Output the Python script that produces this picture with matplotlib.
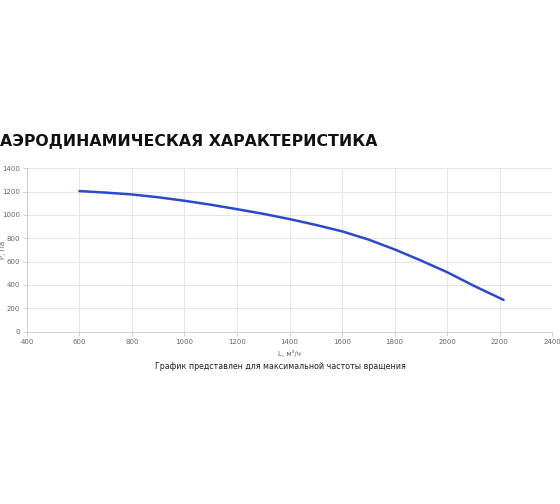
import numpy as np
from matplotlib import pyplot as plt

# расход L, м3/ч и давление P, Па
flow = [600, 700, 800, 900, 1000, 1100, 1200, 1300, 1400, 1500, 1600,
        1700, 1800, 1900, 2000, 2100, 2215]
pressure = [1205, 1192, 1176, 1152, 1122, 1088, 1050, 1010, 965, 915, 860,
            790, 705, 610, 510, 395, 272]

x_ticks = [400, 600, 800, 1000, 1200, 1400, 1600, 1800, 2000, 2200, 2400]
y_ticks = [0, 200, 400, 600, 800, 1000, 1200, 1400]

title = 'АЭРОДИНАМИЧЕСКАЯ ХАРАКТЕРИСТИКА'
note = 'График представлен для максимальной частоты вращения'

fig = plt.figure(figsize=(5.6, 5.04), dpi=100)
ax = fig.add_axes([0.048, 0.342, 0.938, 0.324])

ax.plot(flow, pressure, color='#2b4acb', linewidth=1.8, solid_capstyle='round')

ax.set_xlim(400, 2400)
ax.set_ylim(0, 1400)
ax.set_xticks(x_ticks)
ax.set_yticks(y_ticks)
ax.grid(True, color='#e6e6e6', linewidth=0.7)
ax.set_axisbelow(True)
for side in ['top', 'right']:
    ax.spines[side].set_visible(False)
for side in ['left', 'bottom']:
    ax.spines[side].set_color('#d0d0d0')
    ax.spines[side].set_linewidth(0.7)
ax.tick_params(labelsize=5, colors='#d0d0d0', labelcolor='#666666', length=3, width=0.7, pad=2)

ax.set_xlabel('L, м³/ч', fontsize=5, color='#666666', labelpad=4)
ax.set_ylabel('P, Па', fontsize=5, color='#666666')
ax.yaxis.set_label_coords(-0.039, 0.5)

fig.text(0.0, 0.72, title, fontsize=11.3, fontweight='bold',
         family='DejaVu Sans', color='#111111', ha='left', va='center')
fig.text(0.5, 0.272, note, fontsize=5.7, color='#222222', ha='center', va='center',
         family='DejaVu Sans')

fig.savefig('out.png', dpi=100, facecolor='white')
